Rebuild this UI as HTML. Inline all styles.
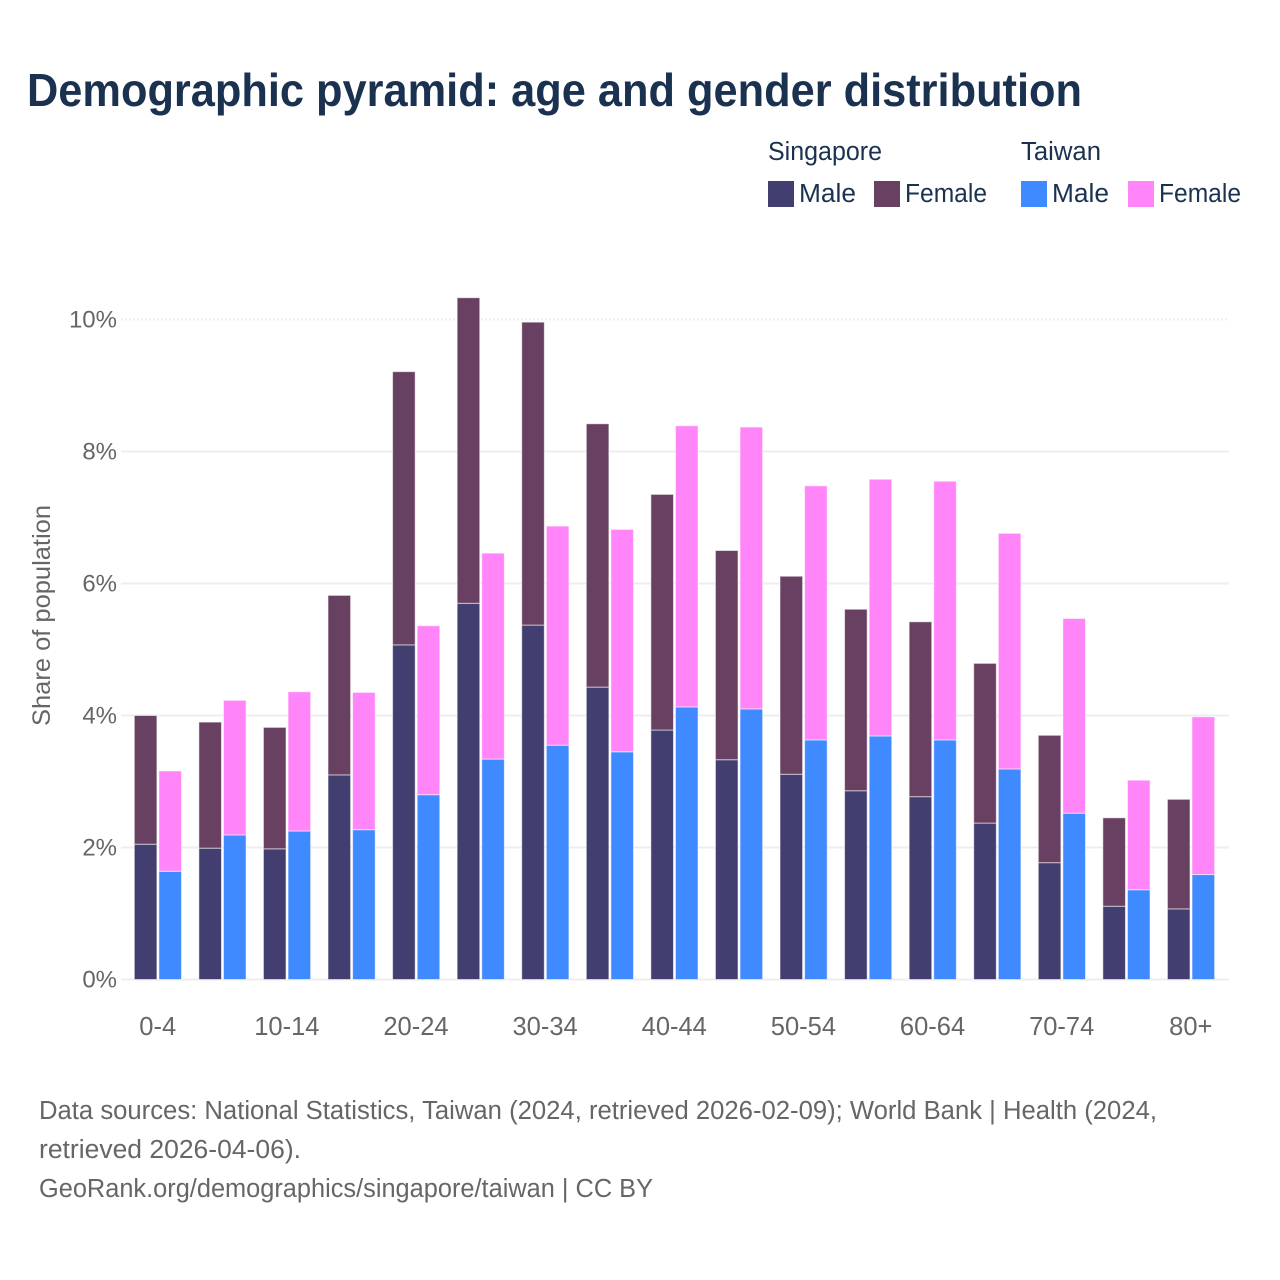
<!DOCTYPE html>
<html lang="en">
<head>
<meta charset="utf-8">
<title>Demographic pyramid: age and gender distribution</title>
<style>
html,body{margin:0;padding:0;background:#fff;}
svg{display:block;font-family:"Liberation Sans",Arial,sans-serif;}
</style>
</head>
<body>
<svg id="chart" xmlns="http://www.w3.org/2000/svg" width="1280" height="1280" viewBox="0 0 1280 1280">
  <rect width="1280" height="1280" fill="#ffffff"/>
  <text x="27" y="106" font-size="46" font-weight="700" fill="#1a3150" textLength="1055" lengthAdjust="spacingAndGlyphs">Demographic pyramid: age and gender distribution</text>

  <g font-size="25.5" fill="#1a3150">
    <text x="768" y="160" textLength="114" lengthAdjust="spacingAndGlyphs">Singapore</text>
    <text x="1021" y="160" textLength="80" lengthAdjust="spacingAndGlyphs">Taiwan</text>
    <rect x="768" y="181" width="26" height="26" fill="#423f70"/>
    <text x="799" y="202" textLength="57" lengthAdjust="spacingAndGlyphs">Male</text>
    <rect x="874" y="181" width="26" height="26" fill="#684162"/>
    <text x="905" y="202" textLength="82" lengthAdjust="spacingAndGlyphs">Female</text>
    <rect x="1021" y="181" width="26" height="26" fill="#408aff"/>
    <text x="1052" y="202" textLength="57" lengthAdjust="spacingAndGlyphs">Male</text>
    <rect x="1128" y="181" width="26" height="26" fill="#ff85f9"/>
    <text x="1159" y="202" textLength="82" lengthAdjust="spacingAndGlyphs">Female</text>
  </g>

  <g id="grid"></g>
  <g id="y-ticks" font-size="24" fill="#666666" text-anchor="end"></g>
  <g id="bars"></g>
  <g id="x-ticks" font-size="25.5" fill="#666666" text-anchor="middle"></g>

  <text transform="translate(50,615.5) rotate(-90)" text-anchor="middle" font-size="25" fill="#666666" textLength="221" lengthAdjust="spacingAndGlyphs">Share of population</text>

  <g font-size="25.5" fill="#666666">
    <text x="39" y="1119" textLength="1118" lengthAdjust="spacingAndGlyphs">Data sources: National Statistics, Taiwan (2024, retrieved 2026-02-09); World Bank | Health (2024,</text>
    <text x="39" y="1158" textLength="262" lengthAdjust="spacingAndGlyphs">retrieved 2026-04-06).</text>
    <text x="39" y="1197" textLength="614" lengthAdjust="spacingAndGlyphs">GeoRank.org/demographics/singapore/taiwan | CC BY</text>
  </g>
</svg>
<script>
var categories = ["0-4","5-9","10-14","15-19","20-24","25-29","30-34","35-39","40-44","45-49","50-54","55-59","60-64","65-69","70-74","75-79","80+"];
var singaporeMale = [2.05,1.99,1.98,3.10,5.07,5.70,5.37,4.43,3.78,3.33,3.11,2.86,2.77,2.37,1.77,1.11,1.07];
var singaporeFemale = [1.95,1.91,1.84,2.72,4.14,4.63,4.59,3.99,3.57,3.17,3.00,2.75,2.65,2.42,1.93,1.34,1.66];
var taiwanMale = [1.64,2.19,2.25,2.27,2.80,3.34,3.55,3.45,4.13,4.10,3.63,3.69,3.63,3.19,2.52,1.36,1.59];
var taiwanFemale = [1.52,2.04,2.11,2.08,2.56,3.12,3.32,3.37,4.26,4.27,3.85,3.89,3.92,3.57,2.95,1.66,2.39];
var yTicks = [0,2,4,6,8,10];

var NS = "http://www.w3.org/2000/svg";
function yScale(v){ return 979.5 - v * 66; }
function xCenter(i){ return 157.7 + i * 64.57; }

function make(tag, attrs, parent){
  var el = document.createElementNS(NS, tag);
  for (var k in attrs) el.setAttribute(k, attrs[k]);
  parent.appendChild(el);
  return el;
}

var gridGroup = document.getElementById("grid");
var yGroup = document.getElementById("y-ticks");
yTicks.forEach(function(t, idx){
  var line = make("line", {x1:121, x2:1229, y1:yScale(t), y2:yScale(t), stroke:"#eeeeee", "stroke-width":2}, gridGroup);
  if (idx === yTicks.length - 1) line.setAttribute("stroke-dasharray", "2 2");
  
  
  var label = make("text", {x:117, y:yScale(t)+8}, yGroup);
  
  
  label.textContent = t + "%";
});

var barGroup = document.getElementById("bars");
function drawSegment(x, base, value, color, name){
  var top = yScale(base + value);
  var rect = make("rect", {x:x, y:top, width:22.6, height:yScale(base)-top, fill:color, stroke:"#ffffff", "stroke-opacity":0.55, "stroke-width":1}, barGroup);
  
  
}
categories.forEach(function(c, i){
  var cx = xCenter(i);
  var leftX = cx - 23.4;
  var rightX = cx + 1.2;
  drawSegment(leftX, 0, singaporeMale[i], "#423f70", "bar-singapore-male");
  drawSegment(leftX, singaporeMale[i], singaporeFemale[i], "#684162", "bar-singapore-female");
  drawSegment(rightX, 0, taiwanMale[i], "#408aff", "bar-taiwan-male");
  drawSegment(rightX, taiwanMale[i], taiwanFemale[i], "#ff85f9", "bar-taiwan-female");
});

var xGroup = document.getElementById("x-ticks");
categories.forEach(function(c, i){
  if (i % 2 !== 0) return;
  var label = make("text", {x:xCenter(i), y:1035}, xGroup);
  
  
  label.textContent = c;
});
</script>
</body>
</html>
